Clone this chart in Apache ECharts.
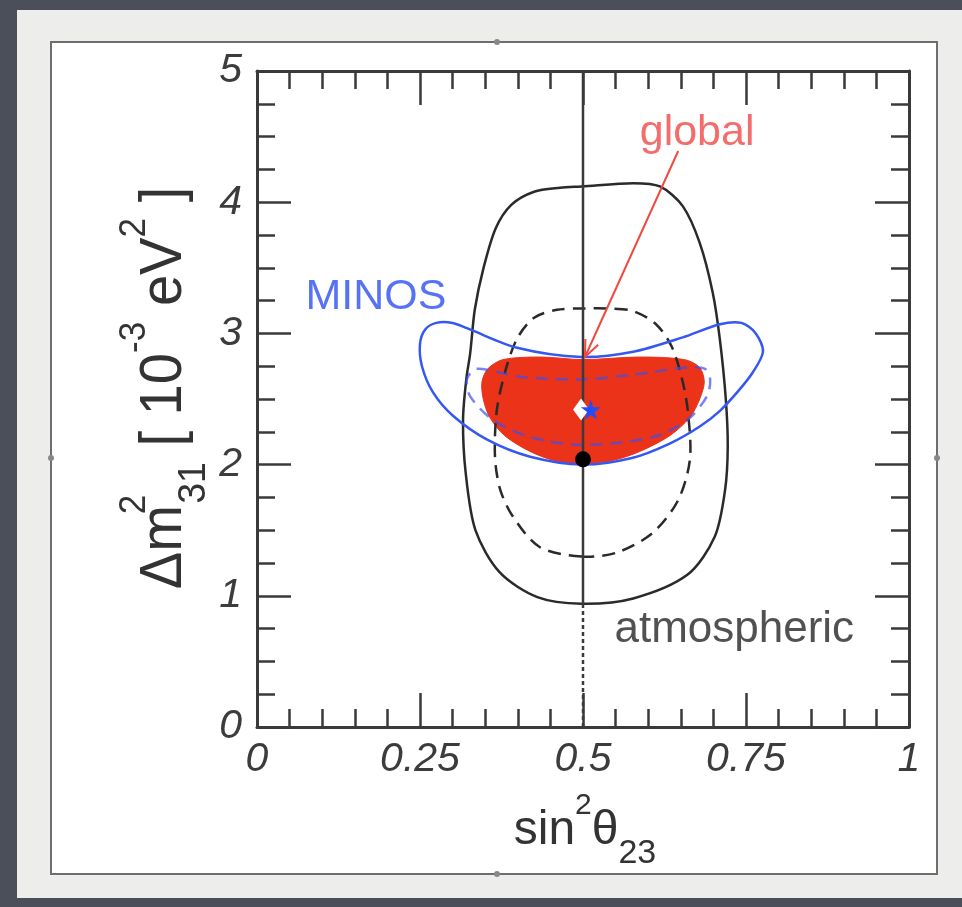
<!DOCTYPE html>
<html>
<head>
<meta charset="utf-8">
<title>sin²θ23 – Δm²31 allowed regions</title>
<script src="https://cdn.jsdelivr.net/npm/echarts@6/dist/echarts.min.js"></script>
<style>
html, body { margin: 0; padding: 0; background: #4a4f59; }
#chart { width: 962px; height: 907px; }
</style>
</head>
<body>
<div id="chart"></div>
<script>
// Allowed-region contours, points given as [sin^2(theta23), dm^2_31 in 1e-3 eV^2]
const atmSolid = [
  [0.498, 0.94], [0.430, 0.99], [0.372, 1.18], [0.335, 1.50], [0.320, 1.94],
  [0.316, 2.34], [0.321, 2.65], [0.327, 2.85], [0.334, 3.18], [0.347, 3.49],
  [0.366, 3.80], [0.390, 3.98], [0.425, 4.08], [0.465, 4.11], [0.498, 4.12],
  [0.577, 4.145], [0.618, 4.12], [0.653, 3.97], [0.679, 3.69], [0.699, 3.31],
  [0.710, 2.95], [0.719, 2.50], [0.722, 2.14], [0.718, 1.81], [0.702, 1.45],
  [0.660, 1.16], [0.577, 0.98]
];
const atmDashed = [
  [0.498, 1.30], [0.434, 1.37], [0.393, 1.60], [0.373, 1.81], [0.365, 2.06],
  [0.368, 2.42], [0.383, 2.75], [0.400, 2.97], [0.425, 3.12], [0.460, 3.18],
  [0.498, 3.19], [0.540, 3.19], [0.577, 3.17], [0.612, 3.07], [0.636, 2.90],
  [0.652, 2.65], [0.661, 2.40], [0.664, 2.04], [0.646, 1.73], [0.607, 1.48],
  [0.552, 1.33]
];
const minosSolid = [
  [0.500, 2.00], [0.419, 2.06], [0.353, 2.19], [0.301, 2.37], [0.270, 2.55],
  [0.253, 2.75], [0.250, 2.92], [0.258, 3.03], [0.275, 3.08], [0.300, 3.08],
  [0.322, 3.04], [0.399, 2.89], [0.498, 2.82], [0.577, 2.86], [0.653, 2.97],
  [0.710, 3.07], [0.743, 3.08], [0.765, 3.00], [0.776, 2.86], [0.760, 2.70],
  [0.738, 2.56], [0.710, 2.41], [0.679, 2.29], [0.633, 2.16], [0.575, 2.05]
];
const minosDashed = [
  [0.500, 2.15], [0.419, 2.21], [0.362, 2.34], [0.327, 2.52], [0.322, 2.65],
  [0.337, 2.73], [0.403, 2.67], [0.500, 2.65], [0.583, 2.69], [0.660, 2.74],
  [0.687, 2.73], [0.695, 2.65], [0.690, 2.52], [0.660, 2.34], [0.607, 2.21]
];
const globalRegion = [
  [0.500, 2.01], [0.457, 2.03], [0.419, 2.10], [0.380, 2.22], [0.357, 2.36],
  [0.347, 2.50], [0.345, 2.63], [0.354, 2.73], [0.377, 2.80], [0.434, 2.82],
  [0.500, 2.80], [0.587, 2.82], [0.656, 2.80], [0.679, 2.74], [0.686, 2.63],
  [0.679, 2.50], [0.664, 2.36], [0.633, 2.22], [0.587, 2.10], [0.544, 2.03]
];

// Best-fit points
const bestFitGlobal = [[0.497, 2.42]];
const bestFitMinos = [[0.512, 2.42]];
const bestFitAtm = [[0.500, 2.04]];

// Maximal mixing line sin^2(theta23) = 0.5
const maxMixingSolid = [[0.5, 0.93], [0.5, 5]];
const maxMixingDotted = [[0.5, 0], [0.5, 0.93]];

// Pointer from the "global" caption to its region
const globalArrow = [[0.646, 4.39], [0.503, 2.82]];

// Captions and the data point each one is centred on
const captionText = ['global', 'MINOS', 'atmospheric'];
const captionAnchor = [[0.675, 4.53], [0.1825, 3.28], [0.732, 0.74]];

// Axis ranges and tick steps
const xRange = [0, 1];
const yRange = [0, 5];
const xMajorStep = 0.25;
const yMajorStep = 1;

const INK = '#3a3a3a';
const BLUE = '#3557f2';
const RED = '#ea3319';
const LABEL_FONT = '"Liberation Sans", Arial, Helvetica, sans-serif';

function contourSeries(points, style, z) {
  return {
    type: 'custom',
    coordinateSystem: 'cartesian2d',
    silent: true,
    z: z,
    data: points,
    renderItem: function (params, api) {
      if (params.dataIndex !== 0) return null;
      const pts = points.map(function (p) { return api.coord(p); });
      return {
        type: 'polygon',
        shape: { points: pts, smooth: 0.3 },
        style: style
      };
    }
  };
}

function frameAxis(base, extra) {
  return Object.assign({}, base, extra);
}

const tickStyle = { color: INK, width: 2.5 };
const xBase = {
  type: 'value', min: xRange[0], max: xRange[1], interval: xMajorStep,
  axisLine: { show: true, onZero: false, lineStyle: { color: INK, width: 3 } },
  axisTick: { show: true, inside: true, length: 34, lineStyle: tickStyle },
  minorTick: { show: true, splitNumber: 5, length: 18, lineStyle: tickStyle },
  splitLine: { show: false },
  minorSplitLine: { show: false }
};
const yBase = {
  type: 'value', min: yRange[0], max: yRange[1], interval: yMajorStep,
  axisLine: { show: true, onZero: false, lineStyle: { color: INK, width: 3 } },
  axisTick: { show: true, inside: true, length: 34, lineStyle: tickStyle },
  minorTick: { show: true, splitNumber: 4, length: 18, lineStyle: tickStyle },
  splitLine: { show: false },
  minorSplitLine: { show: false }
};
const tickLabel = {
  fontFamily: LABEL_FONT, fontStyle: 'italic', fontSize: 41, color: '#3c3c3c'
};

const option = {
  backgroundColor: '#4a4f59',
  animation: false,
  grid: { left: 257, right: 53, top: 71, bottom: 180, containLabel: false, outerBoundsMode: 'none' },
  xAxis: [
    frameAxis(xBase, { position: 'bottom', axisLabel: Object.assign({ margin: 12 }, tickLabel) }),
    frameAxis(xBase, { position: 'top', axisLabel: { show: false } })
  ],
  yAxis: [
    frameAxis(yBase, { position: 'left', axisLabel: Object.assign({ margin: 15 }, tickLabel) }),
    frameAxis(yBase, { position: 'right', axisLabel: { show: false } })
  ],
  graphic: [
    { type: 'rect', z: -10, shape: { x: 17, y: 10, width: 945, height: 888 },
      style: { fill: '#ededeb' } },
    { type: 'rect', z: -9, shape: { x: 51, y: 42, width: 886, height: 832 },
      style: { fill: '#ffffff', stroke: '#6e6e6e', lineWidth: 2 } },
    { type: 'circle', z: -8, shape: { cx: 497, cy: 42, r: 3 }, style: { fill: '#888' } },
    { type: 'circle', z: -8, shape: { cx: 497, cy: 874, r: 3 }, style: { fill: '#888' } },
    { type: 'circle', z: -8, shape: { cx: 51, cy: 458, r: 3 }, style: { fill: '#888' } },
    { type: 'circle', z: -8, shape: { cx: 937, cy: 458, r: 3 }, style: { fill: '#888' } },
    // x-axis title: sin^2 theta_23
    { type: 'text', z: 20, x: 585, y: 831,
      style: {
        text: '{m|sin}{sup|2}{m|θ}{sub|23}',
        align: 'center', verticalAlign: 'middle',
        fill: '#333',
        rich: {
          m: { fontFamily: LABEL_FONT, fontSize: 48, lineHeight: 80, fill: '#333', verticalAlign: 'middle' },
          sup: { fontFamily: LABEL_FONT, fontSize: 30, lineHeight: 32, fill: '#333', verticalAlign: 'top' },
          sub: { fontFamily: LABEL_FONT, fontSize: 34, lineHeight: 24, fill: '#333', verticalAlign: 'bottom' }
        }
      }
    },
    // y-axis title: Δm^2_31 [10^-3 eV^2]
    { type: 'text', z: 20, x: 165, y: 388, rotation: Math.PI / 2, scaleX: 1.17, scaleY: 1.22,
      style: {
        text: '{m|Δm}{sup|2}{sub|31}{m| [ 10}{sup2|-3}{m| eV}{sup2|2}{m| ]}',
        align: 'center', verticalAlign: 'middle',
        fill: '#333',
        rich: {
          m: { fontFamily: LABEL_FONT, fontSize: 48, lineHeight: 80, fill: '#333', verticalAlign: 'middle' },
          sup: { fontFamily: LABEL_FONT, fontSize: 30, lineHeight: 42, width: 1, fill: '#333', verticalAlign: 'top' },
          sub: { fontFamily: LABEL_FONT, fontSize: 32, lineHeight: 47, fill: '#333', verticalAlign: 'bottom' },
          sup2: { fontFamily: LABEL_FONT, fontSize: 30, lineHeight: 42, fill: '#333', verticalAlign: 'top' }
        }
      }
    }
  ],
  series: [
    contourSeries(globalRegion, { fill: RED, stroke: RED, lineWidth: 1 }, 2),
    contourSeries(atmSolid, { fill: 'none', stroke: '#2a2a2a', lineWidth: 2.5 }, 3),
    contourSeries(atmDashed, { fill: 'none', stroke: '#2a2a2a', lineWidth: 2.5, lineDash: [13, 8] }, 3),
    contourSeries(minosSolid, { fill: 'none', stroke: BLUE, lineWidth: 2.5 }, 4),
    contourSeries(minosDashed, { fill: 'none', stroke: 'rgba(60,80,240,0.7)', lineWidth: 2.5, lineDash: [12, 8] }, 4),
    {
      type: 'line', data: maxMixingSolid, symbol: 'none', silent: true, z: 5,
      lineStyle: { color: INK, width: 2.5 }
    },
    {
      type: 'line', data: maxMixingDotted, symbol: 'none', silent: true, z: 5,
      lineStyle: { color: INK, width: 2.5, type: [4, 3] }
    },
    {
      type: 'scatter', data: bestFitAtm, symbol: 'circle', symbolSize: 16, silent: true, z: 6,
      itemStyle: { color: '#000', opacity: 1 }
    },
    {
      type: 'scatter', data: bestFitGlobal, symbol: 'diamond', symbolSize: [16, 22], silent: true, z: 6,
      itemStyle: { color: '#ffffff', opacity: 1 }
    },
    {
      type: 'scatter', data: bestFitMinos, silent: true, z: 7,
      symbol: 'path://M50,0 L61,35 L98,35 L68,57 L79,91 L50,70 L21,91 L32,57 L2,35 L39,35 Z',
      symbolSize: 20, itemStyle: { color: '#1f4dff', opacity: 1 }
    },
    {
      type: 'custom', coordinateSystem: 'cartesian2d', silent: true, z: 8,
      data: globalArrow,
      renderItem: function (params, api) {
        if (params.dataIndex !== 0) return null;
        const a = api.coord(globalArrow[0]);
        const b = api.coord(globalArrow[1]);
        const ang = Math.atan2(b[1] - a[1], b[0] - a[0]);
        const L = 18, spread = 0.4;
        const w1 = [b[0] - L * Math.cos(ang - spread), b[1] - L * Math.sin(ang - spread)];
        const w2 = [b[0] - L * Math.cos(ang + spread), b[1] - L * Math.sin(ang + spread)];
        return {
          type: 'group',
          children: [
            { type: 'line', shape: { x1: a[0], y1: a[1], x2: b[0], y2: b[1] },
              style: { stroke: '#f04a40', lineWidth: 2 } },
            { type: 'polyline', shape: { points: [w1, b, w2] },
              style: { stroke: '#f04a40', lineWidth: 2, fill: 'none' } }
          ]
        };
      }
    },
    {
      type: 'scatter', silent: true, z: 9, symbolSize: 1,
      itemStyle: { color: 'rgba(0,0,0,0)' },
      data: captionText.map(function (t, i) {
        const colors = ['#f04848', '#2d4ff2', '#262626'];
        return {
          value: captionAnchor[i], name: t,
          label: {
            show: true, position: 'inside', formatter: '{b}',
            fontFamily: LABEL_FONT, fontSize: i === 2 ? 44 : 43, color: colors[i]
          }
        };
      })
    }
  ]
};

const chart = echarts.init(document.getElementById('chart'));
chart.setOption(option);
</script>
</body>
</html>
